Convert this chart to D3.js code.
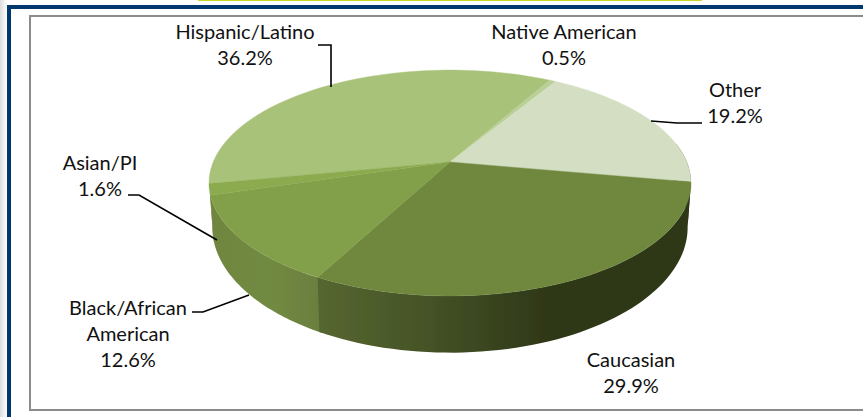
<!DOCTYPE html>
<html><head><meta charset="utf-8">
<style>html,body{margin:0;padding:0;background:#fff;overflow:hidden}svg{display:block}text{font-family:Lato,"Noto Sans",sans-serif;font-size:20px;fill:#111;text-anchor:middle}</style>
<script src="https://cdn.jsdelivr.net/npm/d3@7"></script>
</head><body><script>
const categories = ["Hispanic/Latino","Native American","Other","Caucasian","Black/African American","Asian/PI"];
const shares = [36.2,0.5,19.2,29.9,12.6,1.6];
const topColors = ["#a9c27a","#b9cf95","#d3dec2","#70883e","#82a04a","#8cab50"];
const labelLines = [["Hispanic/Latino","36.2%"],["Native American","0.5%"],["Other","19.2%"],["Caucasian","29.9%"],["Black/African","American","12.6%"],["Asian/PI","1.6%"]];
const labelAnchors = [[245,39],[564,39],[735,97],[631,367],[128,315],[100,170]];
const leaderPaths = [[[318,45],[331,45],[331,87]],[[651,121],[677,123],[702,123]],[[128,195],[139,195],[217,240]],[[192,312],[203,312],[249,295]]];
const W=863,H=417;
const svg=d3.select("body").append("svg").attr("width",W).attr("height",H);
const defs=svg.append("defs");
const shadow=defs.append("linearGradient").attr("id","shadow");
shadow.append("stop").attr("offset",0).attr("stop-color","#dcdcdc");
shadow.append("stop").attr("offset",1).attr("stop-color","#fff");
defs.append("filter").attr("id","soft").attr("x","-5%").attr("y","-5%").attr("width","110%").attr("height","110%").append("feGaussianBlur").attr("stdDeviation",0.5);
function hgrad(id,x1,x2,stops){const g=defs.append("linearGradient").attr("id",id).attr("gradientUnits","userSpaceOnUse").attr("x1",x1).attr("x2",x2).attr("y1",0).attr("y2",0);stops.forEach(s=>g.append("stop").attr("offset",s[0]).attr("stop-color",s[1]));}
hgrad("sideCauc",320,545,[[0,"#566630"],[.45,"#465427"],[1,"#2f3818"]]);
hgrad("sideBlack",212,320,[[0,"#6f8640"],[.55,"#718a42"],[1,"#6b7e3e"]]);
svg.append("rect").attr("x",0).attr("y",0).attr("width",7).attr("height",H).attr("fill","url(#shadow)");
svg.append("rect").attr("x",198).attr("y",0).attr("width",504).attr("height",1).attr("fill","#c5d82a");
svg.append("path").attr("d",`M${W},7H9V${H}`).attr("fill","none").attr("stroke","#00376c").attr("stroke-width",4);
svg.append("path").attr("d",`M${W},16H30V410H${W}`).attr("fill","none").attr("stroke","#8c8c8c").attr("stroke-width",2);

// d3 pie: angles clockwise from north
const startDeg=-101.02;
const pie=d3.pie().sort(null).startAngle(startDeg*Math.PI/180).endAngle((startDeg+360)*Math.PI/180);
const arcs=pie(shares);
const p=0.186;
function projector(cx,cy,rx,ry){
  const X=d3.scaleLinear().domain([-1,1]).range([cx-rx,cx+rx]);
  const Y=d3.scaleLinear().domain([-1,1]).range([cy-ry,cy+ry]);
  const f=a=>{const u=Math.sin(a),v=-Math.cos(a),s=1/(1-p*v);return [X(u*s),Y(v*s)];};
  f.apex=[X(0),Y(0)];
  return f;
}
const topP=projector(450,162,236.8,109);
const botP=projector(450,204,233.5,121);
const line=d3.line();
const samples=(a,b)=>d3.range(0,61).map(i=>a+(b-a)*i/60);
const pieG=svg.append("g").attr("filter","url(#soft)");
// right-hand silhouette, then the front sides (Black drawn first, overlapped slightly by Caucasian)
const rs=samples(arcs[2].endAngle-0.35,arcs[2].endAngle);
pieG.append("path").attr("d",line(rs.map(topP).concat(rs.slice().reverse().map(botP)))+"Z").attr("fill","#2f3818");
[{i:5,fill:"#6f8640",pad:0.01},{i:4,fill:"url(#sideBlack)",pad:0.012},{i:3,fill:"url(#sideCauc)",pad:0}].forEach(o=>{
  const d=arcs[o.i],t=samples(d.startAngle-o.pad,d.endAngle+o.pad);
  pieG.append("path").attr("d",line(t.map(topP).concat(t.slice().reverse().map(botP)))+"Z").attr("fill",o.fill);
});
// top
arcs.forEach((d,i)=>{
  const pts=[topP.apex].concat(samples(d.startAngle,d.endAngle).map(topP));
  pieG.append("path").datum(categories[i]).attr("d",line(pts)+"Z").attr("fill",topColors[i]).attr("stroke",topColors[i]).attr("stroke-width",.4);
});
svg.selectAll("path.leader").data(leaderPaths).join("path").attr("class","leader").attr("d",line).attr("fill","none").attr("stroke","#000").attr("stroke-width",1.6);
labelLines.forEach((ls,i)=>{
  const t=svg.append("text").attr("x",labelAnchors[i][0]).attr("y",labelAnchors[i][1]);
  ls.forEach((s,j)=>t.append("tspan").attr("x",labelAnchors[i][0]).attr("y",labelAnchors[i][1]+j*26).text(s));
});
</script></body></html>
